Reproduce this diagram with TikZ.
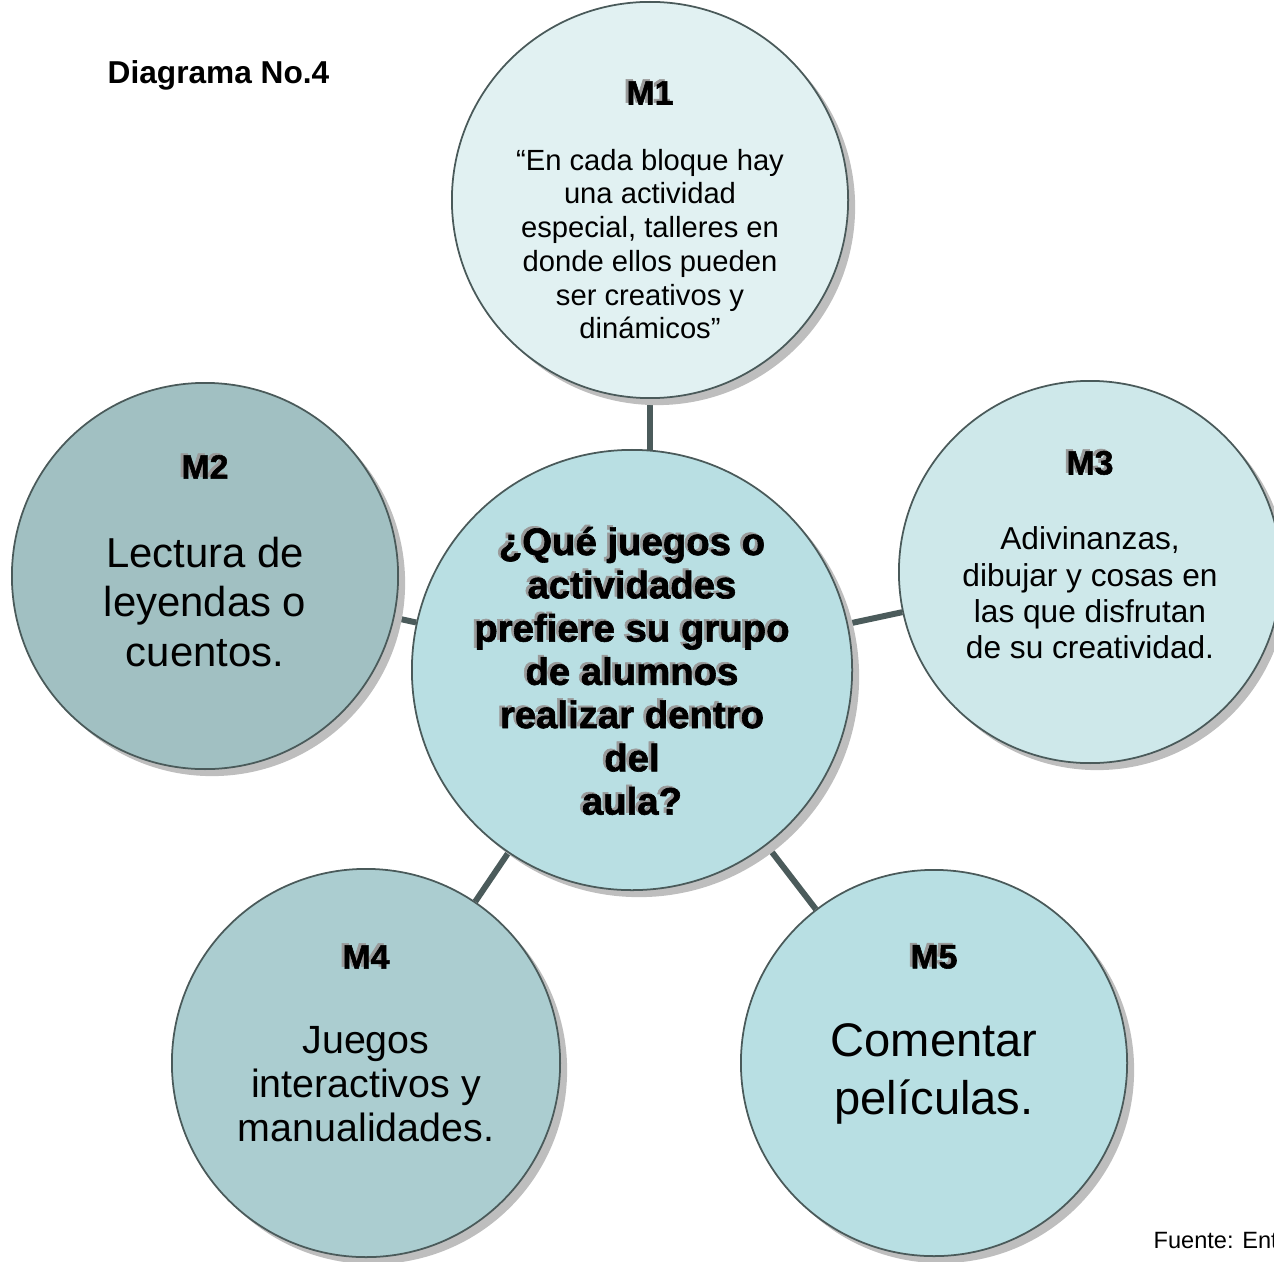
\documentclass[tikz,border=0pt]{standalone}
\usepackage{fontspec}
\setmainfont{Liberation Sans}
\newfontfamily\heavyfont[FakeBold=1.6]{Liberation Sans Bold}
\usepackage{xcolor}
\usepackage{tikz}
\usetikzlibrary{shadows,backgrounds,positioning}

\definecolor{rimgray}{HTML}{4A5A5A}
\definecolor{linkgray}{HTML}{4B5B5B}
\definecolor{shadegray}{HTML}{BEBEBE}
\definecolor{txtshade}{HTML}{9A9A9A}
\definecolor{fillc}{HTML}{B9DFE3}
\definecolor{fillone}{HTML}{E1F1F2}
\definecolor{filltwo}{HTML}{A1C0C2}
\definecolor{fillthree}{HTML}{CEE8EA}
\definecolor{fillfour}{HTML}{ABCDD0}
\definecolor{fillfive}{HTML}{B8DFE3}

\newcommand{\shtxt}[1]{\makebox[0pt][l]{\hspace{-0.8pt}\raisebox{0.55pt}{\textcolor{txtshade}{#1}}}#1}

\begin{document}
\begin{tikzpicture}[x=0.01cm, y=-0.01cm,
                    bubble/.style={circle, draw=rimgray, line width=0.5pt, inner sep=0pt,
                                   drop shadow={shadow xshift=0.07cm, shadow yshift=-0.07cm,
                                                fill=shadegray, opacity=1}},
                    link/.style={line width=1.7pt, linkgray},
                    tag/.style={font=\fontsize{9.6}{11}\selectfont\heavyfont},
                    body/.style={align=center, inner sep=0pt},
                   ]

\useasboundingbox (0,0) rectangle (1274,1261);

% circles
\node[bubble, fill=fillone,   minimum size=3.96cm] (m1) at (650,200) {};
\node[bubble, fill=filltwo,   minimum size=3.86cm] (m2) at (205,576) {};
\node[bubble, fill=fillthree, minimum size=3.82cm] (m3) at (1090,572) {};
\node[bubble, fill=fillfour,  minimum size=3.88cm] (m4) at (366,1063) {};
\node[bubble, fill=fillfive,  minimum size=3.86cm] (m5) at (934,1063) {};
\node[bubble, fill=fillc,     minimum size=4.40cm] (c)  at (632,670) {};

\begin{scope}[on background layer]
\draw[link] (m1) -- (m1 |- c);
\foreach \m in {m2,m3,m4,m5}
  \draw[link] (c) -- (\m);
\end{scope}

% question
\node[body, font=\fontsize{10.9}{12.3}\selectfont\heavyfont] (q) at (c.center)
  {\shtxt{¿Qué juegos o}\\ \shtxt{actividades}\\ \shtxt{prefiere su grupo}\\
   \shtxt{de alumnos}\\ \shtxt{realizar dentro}\\ \shtxt{del}\\ \shtxt{aula?}};

% labels
\node[tag] (m1tag) at ([yshift=1.08cm]m1.center) {\shtxt{M1}};
\node[tag] (m2tag) at ([yshift=1.10cm]m2.center) {\shtxt{M2}};
\node[tag] (m3tag) at ([yshift=1.10cm]m3.center) {\shtxt{M3}};
\node[tag] (m4tag) at ([yshift=1.07cm]m4.center) {\shtxt{M4}};
\node[tag] (m5tag) at ([yshift=1.07cm]m5.center) {\shtxt{M5}};

% answers
\node[body, font=\fontsize{8.3}{9.6}\selectfont] (m1txt) at ([yshift=-0.44cm]m1.center)
  {``En cada bloque hay\\ una actividad\\ especial, talleres en\\ donde ellos pueden\\ ser creativos y\\ dinámicos''};
\node[body, font=\fontsize{11.9}{14.2}\selectfont] (m2txt) at ([yshift=-0.26cm]m2.center)
  {Lectura de\\ leyendas o\\ cuentos.};
\node[body, font=\fontsize{9}{10.3}\selectfont] (m3txt) at ([yshift=-0.21cm]m3.center)
  {Adivinanzas,\\ dibujar y cosas en\\ las que disfrutan\\ de su creatividad.};
\node[body, font=\fontsize{11.2}{12.5}\selectfont] (m4txt) at ([yshift=-0.21cm]m4.center)
  {Juegos\\ interactivos y\\ manualidades.};
\node[body, font=\fontsize{13.4}{16.5}\selectfont] (m5txt) at ([yshift=-0.11cm]m5.center)
  {Comentar\\ películas.};

\node[anchor=west, inner sep=0pt, font=\fontsize{9}{11}\selectfont\bfseries] (title) at (107,75) {Diagrama No.4};
\node[anchor=west, inner sep=0pt, font=\fontsize{6.7}{8}\selectfont] (src) at (1153,1240) {Fuente: Ent};

\end{tikzpicture}
\end{document}
